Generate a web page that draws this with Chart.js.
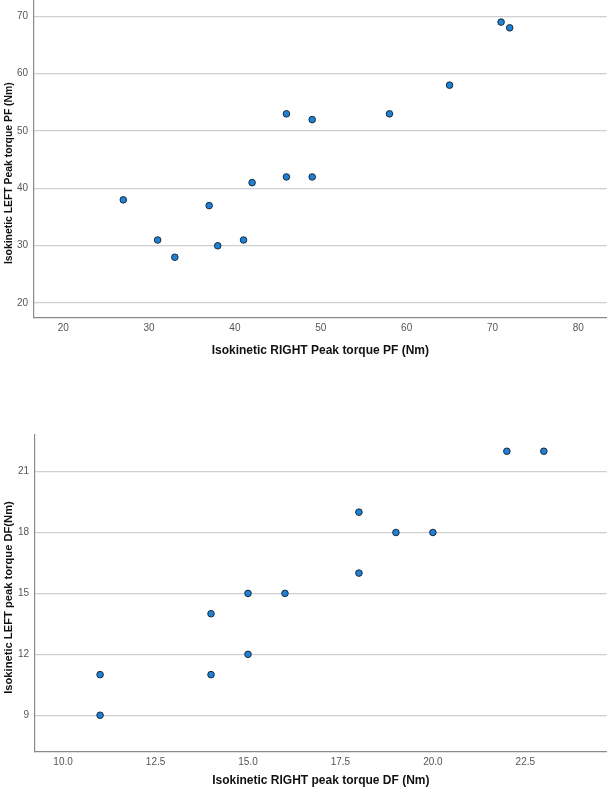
<!DOCTYPE html>
<html>
<head>
<meta charset="utf-8">
<script src="https://cdn.jsdelivr.net/npm/chart.js@4/dist/chart.umd.min.js"></script>
<style>
  html, body { margin: 0; padding: 0; background: #fff; }
  body { width: 608px; height: 789px; position: relative; overflow: hidden; }
  .box { position: absolute; left: 0; width: 611px; }
  #b1 { top: -4px; height: 374px; }
  #b2 { top: 420px; height: 369px; }
</style>
</head>
<body>
<div class="box" id="b1"><canvas id="c1"></canvas></div>
<div class="box" id="b2"><canvas id="c2"></canvas></div>
<script>
// Chart 1: plantar flexion (PF)
const pfRight = [27, 31, 33, 37, 38, 41, 42, 46, 46, 49, 49, 58, 65, 71, 72];
const pfLeft  = [38, 31, 28, 37, 30, 31, 41, 53, 42, 52, 42, 53, 58, 69, 68];
const pfXTicks = [20, 30, 40, 50, 60, 70, 80];
const pfYTicks = [20, 30, 40, 50, 60, 70];

// Chart 2: dorsiflexion (DF)
const dfRight = [11, 11, 14, 14, 15, 15, 16, 18, 18, 19, 20, 22, 23];
const dfLeft  = [11, 9, 14, 11, 15, 12, 15, 19, 16, 18, 18, 22, 22];
const dfXTicks = [10.0, 12.5, 15.0, 17.5, 20.0, 22.5];
const dfYTicks = [9, 12, 15, 18, 21];

const titles = {
  pfX: 'Isokinetic RIGHT Peak torque PF (Nm)',
  pfY: 'Isokinetic LEFT Peak torque PF (Nm)',
  dfX: 'Isokinetic RIGHT peak torque DF (Nm)',
  dfY: 'Isokinetic LEFT peak torque DF(Nm)'
};

const FONT = '"Liberation Sans", Arial, sans-serif';

function pts(xs, ys) { return xs.map((x, i) => ({ x: x, y: ys[i] })); }

// Draws the axis titles (as text) at positions relative to the chart area
const axisTitles = {
  id: 'axisTitles',
  afterDraw(chart, args, o) {
    const ctx = chart.ctx, a = chart.chartArea;
    ctx.save();
    ctx.fillStyle = '#111';
    ctx.textAlign = 'center';
    ctx.textBaseline = 'middle';
    ctx.font = 'bold ' + o.xSize + 'px ' + FONT;
    ctx.fillText(o.xText, (a.left + a.right) / 2, a.bottom + o.xOff);
    ctx.translate(o.yX, (a.top + a.bottom) / 2 + o.yOff);
    ctx.rotate(-Math.PI / 2);
    ctx.font = 'bold ' + o.ySize + 'px ' + FONT;
    ctx.fillText(o.yText, 0, 0);
    ctx.restore();
  }
};

function makeChart(id, xs, ys, xTicks, yTicks, xr, yr, opts) {
  return new Chart(document.getElementById(id), {
    type: 'scatter',
    plugins: [axisTitles],
    data: {
      datasets: [{
        data: pts(xs, ys),
        backgroundColor: 'rgb(30,128,214)',
        borderColor: '#1b2b3b',
        borderWidth: 1,
        pointRadius: 3.3,
        pointHoverRadius: 3.3
      }]
    },
    options: {
      responsive: true,
      maintainAspectRatio: false,
      animation: false,
      layout: { padding: { top: opts.padTop, right: 2, left: 0, bottom: 0 } },
      plugins: {
        legend: { display: false },
        tooltip: { enabled: false },
        axisTitles: opts.titles
      },
      scales: {
        x: {
          type: 'linear',
          min: xr[0], max: xr[1],
          afterBuildTicks: (s) => { s.ticks = xTicks.map(v => ({ value: v })); },
          afterFit: (s) => { s.height = opts.xH; s.paddingLeft = 0; s.paddingRight = 0; },
          ticks: {
            includeBounds: false,
            color: '#555',
            font: { family: FONT, size: 10 },
            padding: 4,
            maxRotation: 0,
            callback: (v) => opts.xDec ? Number(v).toFixed(1) : String(v)
          },
          grid: { display: false, drawTicks: false },
          border: { display: true, color: '#8a8a8a', width: 1.2 },
          title: { display: false }
        },
        y: {
          type: 'linear',
          min: yr[0], max: yr[1],
          afterBuildTicks: (s) => { s.ticks = yTicks.map(v => ({ value: v })); },
          afterFit: (s) => { s.width = opts.yW; s.paddingTop = 0; s.paddingBottom = 0; },
          ticks: {
            includeBounds: false,
            color: '#555',
            font: { family: FONT, size: 10 },
            padding: 6
          },
          grid: { display: true, drawTicks: false, color: '#cfcfcf', lineWidth: 1.2 },
          border: { display: true, color: '#8a8a8a', width: 1.2 },
          title: { display: false }
        }
      }
    }
  });
}

makeChart('c1', pfRight, pfLeft, pfXTicks, pfYTicks, [16.6, 83.3], [17.4, 72.8], {
  padTop: 0, xH: 52, yW: 34, xDec: false,
  titles: { xText: titles.pfX, yText: titles.pfY, xSize: 12, ySize: 10.4, xOff: 33, yX: 9, yOff: 14 }
});

makeChart('c2', dfRight, dfLeft, dfXTicks, dfYTicks, [9.24, 24.7], [7.19, 22.8], {
  padTop: 15, xH: 37, yW: 35, xDec: true,
  titles: { xText: titles.dfX, yText: titles.dfY, xSize: 12, ySize: 11.2, xOff: 29, yX: 9, yOff: 4 }
});
</script>
</body>
</html>
